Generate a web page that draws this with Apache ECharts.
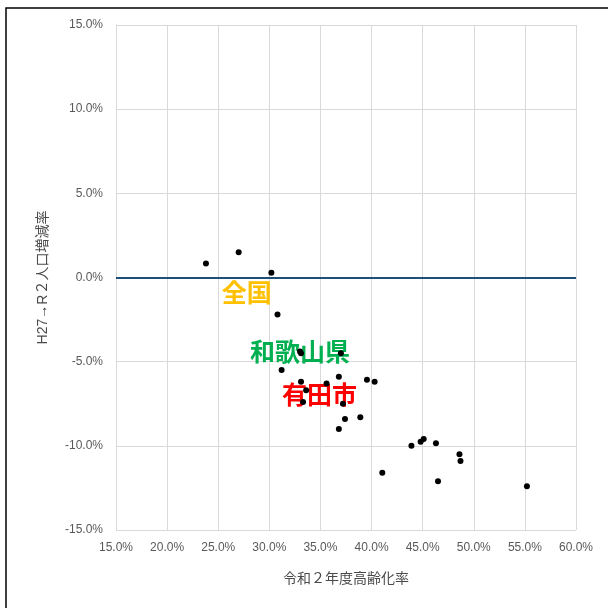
<!DOCTYPE html>
<html><head><meta charset="utf-8">
<script src="https://cdn.jsdelivr.net/npm/echarts@6/dist/echarts.min.js"></script>
<style>html,body{margin:0;padding:0;background:#fff}#c{width:608px;height:608px}</style>
</head><body><div id="c"></div>
<script>
const agingRate = [23.8,27.0,30.2,30.8,31.2,33.0,33.1,37.0,33.1,36.8,35.6,39.55,40.3,33.6,33.3,37.2,37.4,38.9,36.8,43.9,44.8,45.1,46.3,48.6,48.7,41.05,46.5,55.2];
const popChange = [0.83,1.5,0.28,-2.2,-5.5,-4.4,-4.5,-4.5,-6.2,-5.9,-6.3,-6.07,-6.2,-6.7,-7.4,-7.5,-8.4,-8.3,-9.0,-10.0,-9.76,-9.6,-9.84,-10.5,-10.9,-11.6,-12.1,-12.4];
const annoNames = ['全国','和歌山県','有田市'];
const annoX = [27.8,33.0,34.9];
const annoY = [-0.89,-4.4,-6.96];
const annoColors = ['#FFC000','#00B050','#FF0000'];
const xTicks = [15,20,25,30,35,40,45,50,55,60];
const yTicks = [-15,-10,-5,0,5,10,15];

const chart = echarts.init(document.getElementById('c'));
const font = 'Liberation Sans, Noto Sans CJK JP, sans-serif';
chart.setOption({
  animation:false,
  graphic:[{type:'rect',shape:{x:6,y:8,width:800,height:800},style:{fill:'none',stroke:'#000',lineWidth:1.5},z:-1}],
  grid:{left:116,right:32,top:25,bottom:78,containLabel:false},
  xAxis:{type:'value',min:xTicks[0],max:xTicks[xTicks.length-1],interval:5,
    name:'令和２年度高齢化率',nameLocation:'middle',nameGap:42,
    nameTextStyle:{color:'#4a4a4a',fontSize:14,fontFamily:font},
    axisLine:{show:true,lineStyle:{color:'#D9D9D9'}},axisTick:{show:false},
    splitLine:{show:true,lineStyle:{color:'#D9D9D9'}},
    axisLabel:{color:'#595959',fontSize:12,fontFamily:font,margin:12,formatter:v=>v.toFixed(1)+'%'}},
  yAxis:{type:'value',min:yTicks[0],max:yTicks[yTicks.length-1],interval:5,
    name:'H27→R２人口増減率',nameLocation:'middle',nameGap:66,
    nameTextStyle:{color:'#4a4a4a',fontSize:14,fontFamily:font},
    axisLine:{show:true,lineStyle:{color:'#D9D9D9'}},axisTick:{show:false},
    splitLine:{show:true,lineStyle:{color:'#D9D9D9'}},
    axisLabel:{color:'#595959',fontSize:12,fontFamily:font,margin:13,formatter:v=>v.toFixed(1)+'%'}},
  series:[
    {type:'scatter',symbolSize:0,z:2,zlevel:0,silent:true,itemStyle:{opacity:1},
     data:annoNames.map((n,i)=>({name:n,value:[annoX[i],annoY[i]],
       label:{show:true,position:'inside',formatter:n,color:annoColors[i],opacity:1,fontSize:25,fontWeight:'bold',fontFamily:'Noto Sans CJK JP'}}))},
    {type:'scatter',data:agingRate.map((x,i)=>[x,popChange[i]]),symbolSize:6,
     itemStyle:{color:'#000',opacity:1},z:5,zlevel:1,
     markLine:{silent:true,symbol:'none',label:{show:false},lineStyle:{color:'#1F4E79',width:2,type:'solid',opacity:1},data:[{yAxis:0}]}}
  ]
});
</script></body></html>
